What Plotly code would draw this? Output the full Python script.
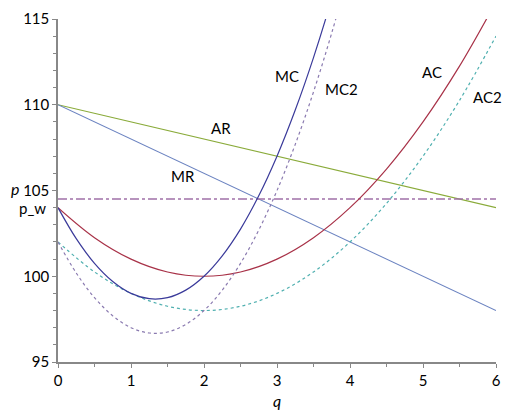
import plotly.graph_objects as go

q_lin = [0, 6]
AR = [110, 104]
MR = [110, 98]

q_ac = [0, 0.5, 1, 1.5, 2, 2.5, 3, 3.5, 4, 4.5, 5, 5.5, 6]
AC = [104, 102.25, 101, 100.25, 100, 100.25, 101, 102.25, 104, 106.25, 109, 112.25, 116]
AC2 = [102, 100.25, 99, 98.25, 98, 98.25, 99, 100.25, 102, 104.25, 107, 110.25, 114]

q_mc = [0, 0.25, 0.5, 0.75, 1, 1.25, 1.5, 1.75, 2, 2.25, 2.5, 2.75, 3, 3.25, 3.5, 3.75, 4]
MC = [104, 102.19, 100.75, 99.69, 99, 98.69, 98.75, 99.19, 100, 101.19, 102.75, 104.69, 107, 109.69, 112.75, 116.19, 120]
MC2 = [102, 100.19, 98.75, 97.69, 97, 96.69, 96.75, 97.19, 98, 99.19, 100.75, 102.69, 105, 107.69, 110.75, 114.19, 118]

p_w = 104.5

x_ticks = [0, 1, 2, 3, 4, 5, 6]
y_ticks = [95, 100, 105, 110, 115]

FONT = "Lato"

fig = go.Figure()
fig.add_trace(go.Scatter(x=q_lin, y=AR, mode="lines", line=dict(color="#8aab3a", width=1.1)))
fig.add_trace(go.Scatter(x=q_lin, y=MR, mode="lines", line=dict(color="#6a82c0", width=1.1)))
fig.add_trace(go.Scatter(x=q_lin, y=[p_w, p_w], mode="lines",
                         line=dict(color="#a070a8", width=1.5, dash="dashdot")))
fig.add_trace(go.Scatter(x=q_ac, y=AC, mode="lines", line=dict(color="#a83248", width=1.2, shape="spline")))
fig.add_trace(go.Scatter(x=q_ac, y=AC2, mode="lines", line=dict(color="#50b0b0", width=1.2, dash="dot", shape="spline")))
fig.add_trace(go.Scatter(x=q_mc, y=MC, mode="lines", line=dict(color="#3a3a9a", width=1.2, shape="spline")))
fig.add_trace(go.Scatter(x=q_mc, y=MC2, mode="lines", line=dict(color="#8a7ab0", width=1.2, dash="dot", shape="spline")))

labels = [("AR", 2.23, 108.65), ("MR", 1.71, 105.85), ("MC", 3.14, 111.7),
          ("MC2", 3.88, 110.9), ("AC", 5.13, 111.9), ("AC2", 5.88, 110.45)]
for t, x, y in labels:
    fig.add_annotation(x=x, y=y, text=t, showarrow=False,
                       font=dict(family=FONT, size=15, color="black"))

fig.add_annotation(xref="paper", x=-0.022, y=104, text="p_w", showarrow=False, xanchor="right",
                   font=dict(family=FONT, size=15, color="black"))
fig.add_annotation(xref="paper", x=-0.085, y=105.1, text="<i>p</i>", showarrow=False, xanchor="right",
                   font=dict(family=FONT, size=16, color="black"))
fig.add_annotation(x=3, yref="paper", y=-0.112, text="<i>q</i>", showarrow=False, yanchor="middle",
                   font=dict(family=FONT, size=16, color="black"))

fig.update_xaxes(range=[0, 6], tickvals=x_ticks, ticks="outside", ticklen=4, tickcolor="#888",
                 showline=True, linecolor="#888", linewidth=1.5, showgrid=False, zeroline=False,
                 automargin=False,
                 tickfont=dict(family=FONT, size=15, color="black"),
                 minor=dict(dtick=0.5, ticks="outside", ticklen=3, tickcolor="#888", showgrid=False))
fig.update_yaxes(range=[95, 115], tickvals=y_ticks, ticks="outside", ticklen=4, tickcolor="#888",
                 showline=True, linecolor="#888", linewidth=1.5, showgrid=False, zeroline=False,
                 automargin=False,
                 tickfont=dict(family=FONT, size=15, color="black"),
                 minor=dict(dtick=1, ticks="outside", ticklen=3, tickcolor="#888", showgrid=False))

fig.update_layout(width=505, height=414, margin=dict(l=58, r=9, t=19, b=52),
                  plot_bgcolor="white", paper_bgcolor="white", showlegend=False)

fig.write_html("out.html", config={"displayModeBar": False},
               post_script="document.body.style.margin='0';document.body.style.overflow='hidden';")
